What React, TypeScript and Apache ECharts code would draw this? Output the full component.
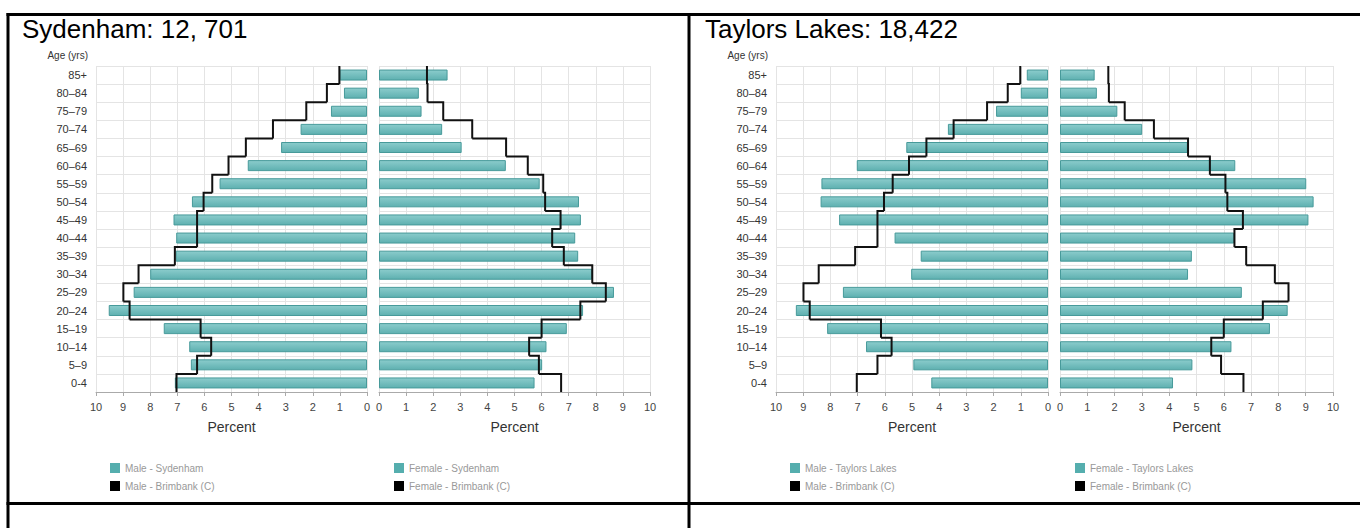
import React, { useEffect, useRef } from "react";
import * as echarts from "echarts";

const FONT = "Liberation Sans, Arial, Helvetica, sans-serif";

// Age groups, bottom (youngest) to top (oldest)
const categories = ["0-4", "5–9", "10–14", "15–19", "20–24", "25–29", "30–34", "35–39", "40–44", "45–49", "50–54", "55–59", "60–64", "65–69", "70–74", "75–79", "80–84", "85+"];

// Percent of population
const sydenhamMale = [7.09, 6.5, 6.56, 7.5, 9.53, 8.61, 8.0, 7.06, 7.04, 7.14, 6.46, 5.44, 4.4, 3.17, 2.45, 1.33, 0.85, 1.01];
const sydenhamFemale = [5.74, 6.02, 6.18, 6.93, 7.53, 8.67, 7.86, 7.35, 7.24, 7.45, 7.38, 5.93, 4.68, 3.05, 2.33, 1.57, 1.47, 2.53];
const taylorsMale = [4.29, 4.95, 6.69, 8.12, 9.27, 7.54, 5.03, 4.68, 5.64, 7.68, 8.36, 8.33, 7.03, 5.21, 3.68, 1.91, 1.0, 0.78];
const taylorsFemale = [4.14, 4.85, 6.28, 7.69, 8.34, 6.66, 4.69, 4.83, 6.38, 9.1, 9.29, 9.02, 6.42, 4.68, 3.01, 2.1, 1.35, 1.27];
const brimbankMale = [7.03, 6.27, 5.75, 6.14, 8.76, 8.99, 8.43, 7.09, 6.27, 6.27, 6.03, 5.71, 5.11, 4.47, 3.47, 2.24, 1.48, 1.02];
const brimbankFemale = [6.72, 5.9, 5.54, 6.0, 7.43, 8.37, 7.87, 6.82, 6.39, 6.7, 6.13, 6.06, 5.49, 4.69, 3.44, 2.37, 1.79, 1.77];

const xTicks = { min: 0, max: 10, interval: 1 };

const panels = [
  { title: "Sydenham: 12, 701", area: "Sydenham", male: sydenhamMale, female: sydenhamFemale },
  { title: "Taylors Lakes: 18,422", area: "Taylors Lakes", male: taylorsMale, female: taylorsFemale },
];

const TEAL = "#55aeae";

function stepData(values: number[]) {
  return values.map((v, i) => [v, i, i + 1 < values.length ? values[i + 1] : NaN]);
}

function renderStep(params: any, api: any) {
  const v = api.value(0);
  const idx = api.value(1);
  const next = api.value(2);
  const band = api.size([0, 1])[1];
  const c = api.coord([v, idx]);
  const top = c[1] - band / 2;
  const bot = c[1] + band / 2;
  const points: number[][] = [[c[0], bot], [c[0], top]];
  if (next !== null && next !== undefined && !isNaN(next)) {
    const cn = api.coord([next, idx + 1]);
    points.push([cn[0], top]);
  }
  return {
    type: "polyline",
    shape: { points },
    style: { stroke: "#111", lineWidth: 2, fill: null, lineJoin: "miter" },
  };
}

function buildOption() {
  const grids: any[] = [];
  const xAxes: any[] = [];
  const yAxes: any[] = [];
  const series: any[] = [];
  const legends: any[] = [];
  const titles: any[] = [];
  const graphics: any[] = [];

  const gridLayout = [
    [{ left: 96, width: 271 }, { left: 379, width: 271 }],
    [{ left: 776, width: 272 }, { left: 1060, width: 273 }],
  ];
  const legendLeft = [[110, 394], [790, 1075]];
  const titleLeft = [22, 705];
  const ageLabelX = [88, 768];

  const barFill = new echarts.graphic.LinearGradient(0, 0, 0, 1, [
    { offset: 0, color: "#8bcccc" },
    { offset: 1, color: "#5eb0b0" },
  ]);

  panels.forEach((p, pi) => {
    titles.push({
      text: p.title,
      left: titleLeft[pi],
      top: 16,
      padding: 0,
      textStyle: { fontSize: 26, fontWeight: "normal", color: "#000", fontFamily: FONT },
    });
    graphics.push({
      type: "text",
      x: ageLabelX[pi],
      y: 55,
      style: { text: "Age (yrs)", fill: "#333", fontSize: 10, fontFamily: FONT, align: "right", verticalAlign: "middle" },
    });

    [0, 1].forEach((side) => {
      const gi = pi * 2 + side;
      const isMale = side === 0;
      grids.push({ ...gridLayout[pi][side], top: 66, height: 326 });
      xAxes.push({
        type: "value",
        gridIndex: gi,
        ...xTicks,
        inverse: isMale,
        name: "Percent",
        nameLocation: "middle",
        nameGap: 28,
        nameTextStyle: { fontSize: 14, color: "#333", fontFamily: FONT },
        axisLine: { show: true, lineStyle: { color: "#aaa", width: 1 } },
        axisTick: { show: true, length: 4, lineStyle: { color: "#aaa" } },
        axisLabel: { fontSize: 11, color: "#444", fontFamily: FONT, margin: 9 },
        splitLine: { show: true, lineStyle: { color: "#e4e4e4", width: 1 } },
      });
      yAxes.push({
        type: "category",
        gridIndex: gi,
        data: categories,
        position: "left",
        boundaryGap: true,
        axisLine: { show: false },
        axisTick: { show: false },
        axisLabel: { show: isMale, fontSize: 11, color: "#333", fontFamily: FONT, margin: 9 },
        splitLine: { show: true, lineStyle: { color: "#e4e4e4", width: 1 } },
      });
      const sex = isMale ? "Male" : "Female";
      series.push({
        type: "bar",
        name: `${sex} - ${p.area}`,
        xAxisIndex: gi,
        yAxisIndex: gi,
        data: isMale ? p.male : p.female,
        barWidth: 11,
        itemStyle: { color: barFill, borderColor: "#479a9a", borderWidth: 1 },
        z: 2,
      });
      series.push({
        type: "custom",
        name: `${sex} - Brimbank (C)`,
        xAxisIndex: gi,
        yAxisIndex: gi,
        data: stepData(isMale ? brimbankMale : brimbankFemale),
        encode: { x: 0, y: 1 },
        renderItem: renderStep,
        itemStyle: { color: "#000" },
        z: 5,
      });
      legends.push({
        orient: "vertical",
        left: legendLeft[pi][side],
        top: 463,
        padding: 0,
        itemWidth: 10,
        itemHeight: 10,
        itemGap: 8,
        icon: "rect",
        selectedMode: false,
        itemStyle: { borderWidth: 0 },
        textStyle: { color: "#999", fontSize: 10, fontFamily: FONT },
        data: [
          { name: `${sex} - ${p.area}`, itemStyle: { color: TEAL, borderWidth: 0 } },
          { name: `${sex} - Brimbank (C)`, itemStyle: { color: "#000", borderWidth: 0 } },
        ],
      });
    });
  });

  // table borders
  const border = { stroke: "#000", lineWidth: 3 };
  graphics.push(
    { type: "line", shape: { x1: 6.5, y1: 14.5, x2: 1360, y2: 14.5 }, style: border, z: 10 },
    { type: "line", shape: { x1: 6.5, y1: 503.5, x2: 1360, y2: 503.5 }, style: border, z: 10 },
    { type: "line", shape: { x1: 8, y1: 13, x2: 8, y2: 528 }, style: border, z: 10 },
    { type: "line", shape: { x1: 689, y1: 13, x2: 689, y2: 528 }, style: border, z: 10 }
  );

  return {
    animation: false,
    backgroundColor: "#fff",
    textStyle: { fontFamily: FONT },
    title: titles,
    grid: grids,
    xAxis: xAxes,
    yAxis: yAxes,
    legend: legends,
    series,
    graphic: graphics,
  };
}

export default function App() {
  const ref = useRef<HTMLDivElement>(null);
  useEffect(() => {
    if (!ref.current) return;
    const chart = echarts.init(ref.current, undefined, { renderer: "svg" });
    chart.setOption(buildOption() as any);
    return () => chart.dispose();
  }, []);
  return (
    <div
      ref={ref}
      style={{ position: "fixed", left: 0, top: 0, width: 1360, height: 528, background: "#fff" }}
    />
  );
}
